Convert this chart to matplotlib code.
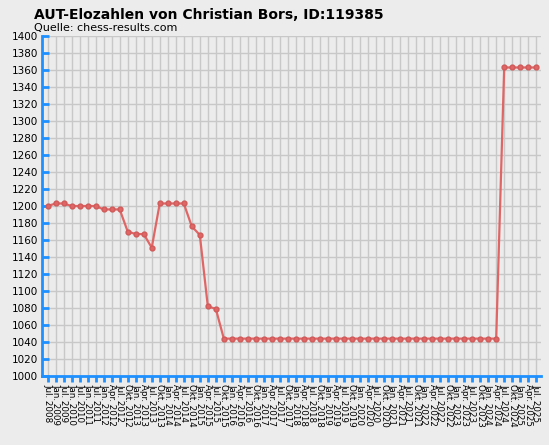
import matplotlib
matplotlib.use("Agg")
import matplotlib.pyplot as plt

labels = ["Jul. 2008","Jan. 2009","Jul. 2009","Jan. 2010","Jul. 2010","Jan. 2011","Jul. 2011","Jan. 2012"]
q = ["Jan.","Apr.","Jul.","Okt."]
for y in range(2012, 2026):
    for i, m in enumerate(q):
        if (y == 2012 and i == 0) or (y == 2025 and i > 2):
            continue
        labels.append(f"{m} {y}")
values = ([1200,1203,1203,1200,1200,1200,1200,1196,1196,1196,1170,1167,1167,1151,
           1203,1203,1203,1203,1176,1166,1082,1079] + [1044]*35 + [1363]*5)

bg = "#ececec"
fig = plt.figure(figsize=(5.49,4.45), dpi=100, facecolor=bg)
ax = fig.add_axes([0.0765, 0.155, 0.909, 0.764])
ax.set_facecolor(bg)
x = list(range(len(values)))
ax.plot(x, values, color="#e06666", lw=1.6, marker="o", ms=3.5, mfc="#e06666", mec="#d05a5a", zorder=3)
ax.set_xlim(-0.7, len(values)-0.4)
ax.set_ylim(1000, 1400)
ax.set_yticks(range(1000, 1401, 20))
ax.set_xticks(x)
ax.set_xticklabels(labels, rotation=-90, fontsize=6.3)
ax.tick_params(axis="y", labelsize=7.5, color="#1e90ff", length=5, width=2, direction="in", pad=3)
ax.tick_params(axis="x", color="#1e90ff", length=4, width=2, direction="out", pad=2)
ax.grid(True, color="#c8c8c8", lw=1)
for s in ["top","right"]:
    ax.spines[s].set_visible(False)
for s in ["left","bottom"]:
    ax.spines[s].set_color("#1e90ff"); ax.spines[s].set_linewidth(2)
fig.text(0.062, 0.958, "AUT-Elozahlen von Christian Bors, ID:119385", fontsize=10, fontweight="bold")
fig.text(0.062, 0.93, "Quelle: chess-results.com", fontsize=8)
fig.savefig("out.png", facecolor=bg)
